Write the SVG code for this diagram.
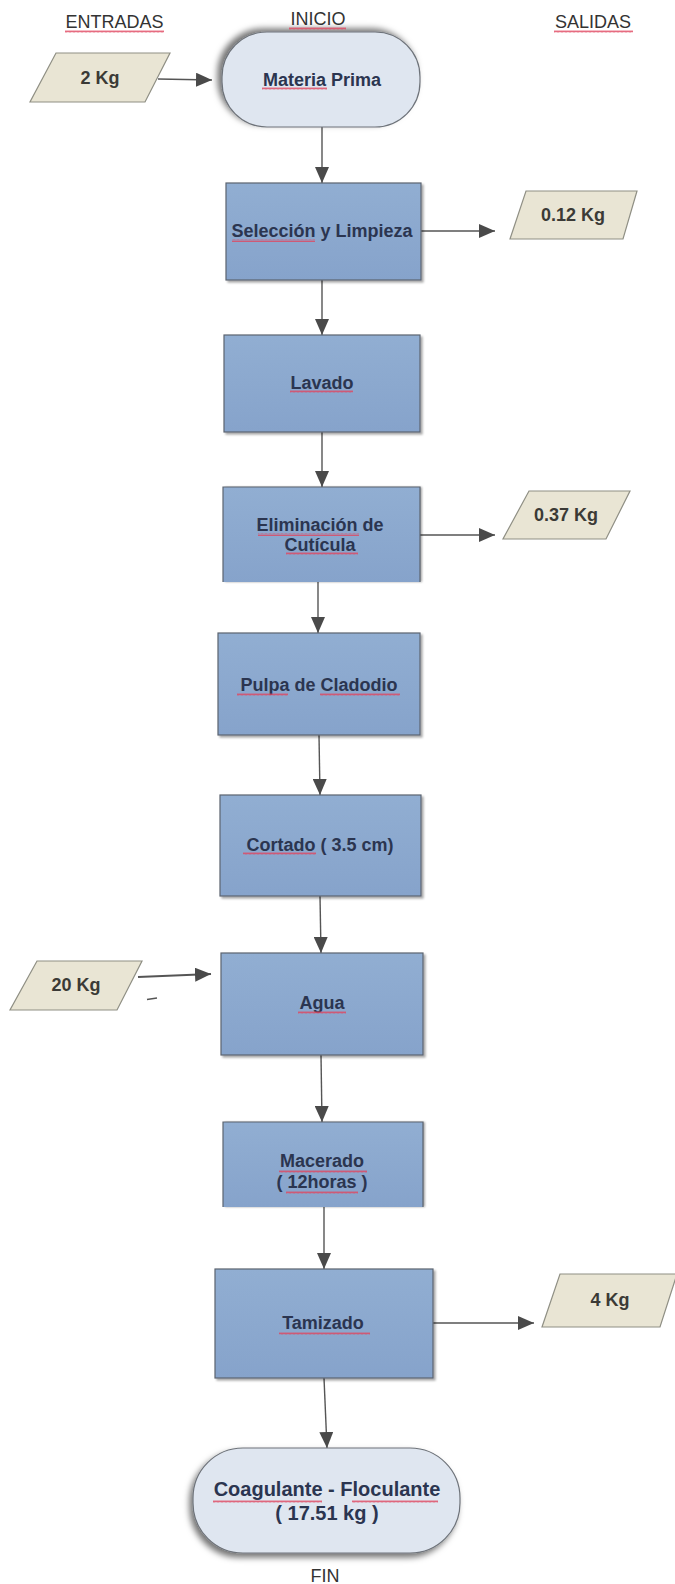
<svg xmlns="http://www.w3.org/2000/svg" width="675" height="1584" viewBox="0 0 675 1584">
<style>
.hdr{font-family:"Liberation Sans",Arial,sans-serif;font-size:18px;fill:#333;text-anchor:middle}
.bt{font-family:"Liberation Sans",Arial,sans-serif;font-size:18px;font-weight:bold;fill:#2b3550;text-anchor:middle}
.pt{font-family:"Liberation Sans",Arial,sans-serif;font-size:18px;font-weight:bold;fill:#3b3a36;text-anchor:middle}
.box{fill:url(#boxg);stroke:#5c6470;stroke-width:1.2}
.boxo{fill:url(#boxg);stroke:none}
.boxe{fill:none;stroke:#5c6470;stroke-width:1.2}
.term{fill:#dfe6f0;stroke:#6e737a;stroke-width:1.2}
.para{fill:#e9e5d4;stroke:#8f8f84;stroke-width:1.2}
.edge{stroke:#555;stroke-width:1.4;fill:none;marker-end:url(#ah)}
.sq{fill:url(#squig)}
</style>
<defs>
<linearGradient id="boxg" x1="0" y1="0" x2="0" y2="1">
<stop offset="0" stop-color="#91aed2"/>
<stop offset="1" stop-color="#86a3cb"/>
</linearGradient>
<marker id="ah" viewBox="0 0 16 14" refX="16" refY="7" markerWidth="16" markerHeight="14" markerUnits="userSpaceOnUse" orient="auto">
<path d="M0,0 L16,7 L0,14 Z" fill="#4a4a4a"/>
</marker>
<filter id="sh" x="-10%" y="-10%" width="125%" height="125%">
<feDropShadow dx="2" dy="2" stdDeviation="1.3" flood-color="#000" flood-opacity="0.35"/>
</filter>
<filter id="shs" x="-10%" y="-10%" width="125%" height="125%">
<feDropShadow dx="2" dy="0" stdDeviation="1.3" flood-color="#000" flood-opacity="0.35"/>
</filter>
<filter id="shtl" x="-20%" y="-20%" width="140%" height="140%">
<feDropShadow dx="-4" dy="-3" stdDeviation="3" flood-color="#000" flood-opacity="0.55"/>
</filter>
<filter id="shbl" x="-20%" y="-20%" width="140%" height="140%">
<feDropShadow dx="-3" dy="4" stdDeviation="3" flood-color="#000" flood-opacity="0.55"/>
</filter>
<pattern id="squig" patternUnits="userSpaceOnUse" width="4" height="3">
<path d="M0,2.5 L1,0.5 L2,2.5 L3,0.5 L4,2.5" fill="none" stroke="#e0465f" stroke-width="0.8"/>
</pattern>
</defs>
<rect width="675" height="1584" fill="#ffffff"/>

<g id="headers">
<text class="hdr" x="114.5" y="28">ENTRADAS</text>
<text class="hdr" x="318" y="25">INICIO</text>
<text class="hdr" x="593" y="28">SALIDAS</text>
<text class="hdr" x="325" y="1582">FIN</text>
</g>

<g id="connectors">
<line class="edge" x1="158" y1="79" x2="212" y2="80"/>
<line class="edge" x1="322" y1="127" x2="322" y2="183"/>
<line class="edge" x1="421" y1="231" x2="495" y2="231"/>
<line class="edge" x1="322" y1="280" x2="322" y2="335"/>
<line class="edge" x1="322" y1="432" x2="322" y2="487"/>
<line class="edge" x1="420" y1="535" x2="495" y2="535"/>
<line class="edge" x1="318" y1="582" x2="318" y2="633"/>
<line class="edge" x1="319" y1="735" x2="320" y2="795"/>
<line class="edge" x1="320" y1="896" x2="321" y2="953"/>
<line class="edge" x1="138" y1="977" x2="211" y2="974" style="stroke-width:2.2"/>
<line x1="147" y1="999.5" x2="157" y2="998" stroke="#555" stroke-width="1.3"/>
<line class="edge" x1="321" y1="1055" x2="322" y2="1122"/>
<line class="edge" x1="324" y1="1207" x2="324" y2="1269"/>
<line class="edge" x1="433" y1="1323" x2="534" y2="1323"/>
<line class="edge" x1="324" y1="1378" x2="327" y2="1448"/>
</g>

<g id="in-2kg">
<polygon class="para" points="56,53 170,53 145,102 30,102"/>
<text class="pt" x="100" y="84">2 Kg</text>
</g>

<g id="materia-prima">
<rect class="term" x="222" y="32" width="198" height="95" rx="45" ry="45" filter="url(#shtl)"/>
<text class="bt" x="322" y="86">Materia Prima</text>
</g>

<g id="seleccion">
<rect class="box" x="226" y="183" width="195" height="97" filter="url(#sh)"/>
<text class="bt" x="322" y="237">Selección y Limpieza</text>
</g>

<g id="out-012">
<polygon class="para" points="526,191 637,191 623,239 510,239"/>
<text class="pt" x="573" y="221">0.12 Kg</text>
</g>

<g id="lavado">
<rect class="box" x="224" y="335" width="196" height="97" filter="url(#sh)"/>
<text class="bt" x="322" y="389">Lavado</text>
</g>

<g id="eliminacion">
<rect class="boxo" x="223" y="487" width="197" height="95" filter="url(#shs)"/>
<path class="boxe" d="M223,582 L223,487 L420,487 L420,582"/>
<text class="bt" x="320" y="531">Eliminación de</text>
<text class="bt" x="320" y="551">Cutícula</text>
</g>

<g id="out-037">
<polygon class="para" points="529,491 630,491 606,539 503,539"/>
<text class="pt" x="566" y="521">0.37 Kg</text>
</g>

<g id="pulpa">
<rect class="box" x="218" y="633" width="202" height="102" filter="url(#sh)"/>
<text class="bt" x="319" y="691">Pulpa de Cladodio</text>
</g>

<g id="cortado">
<rect class="box" x="220" y="795" width="201" height="101" filter="url(#sh)"/>
<text class="bt" x="320" y="851">Cortado ( 3.5 cm)</text>
</g>

<g id="in-20kg">
<polygon class="para" points="37,961 142,961 117,1010 10,1010"/>
<text class="pt" x="76" y="991">20 Kg</text>
</g>

<g id="agua">
<rect class="box" x="221" y="953" width="202" height="102" filter="url(#sh)"/>
<text class="bt" x="322" y="1009">Agua</text>
</g>

<g id="macerado">
<rect class="boxo" x="223" y="1122" width="200" height="85" filter="url(#shs)"/>
<path class="boxe" d="M223,1207 L223,1122 L423,1122 L423,1207"/>
<text class="bt" x="322" y="1167">Macerado</text>
<text class="bt" x="322" y="1188">( 12horas )</text>
</g>

<g id="tamizado">
<rect class="box" x="215" y="1269" width="218" height="109" filter="url(#sh)"/>
<text class="bt" x="323" y="1329">Tamizado</text>
</g>

<g id="out-4kg">
<polygon class="para" points="560,1274 677,1274 660,1327 542,1327"/>
<text class="pt" x="610" y="1306">4 Kg</text>
</g>

<g id="coagulante">
<rect class="term" x="193" y="1448" width="267" height="105" rx="50" ry="50" filter="url(#shbl)"/>
<text class="bt" x="327" y="1496" style="font-size:20px">Coagulante - Floculante</text>
<text class="bt" x="327" y="1520" style="font-size:20px">( 17.51 kg )</text>
</g>

<g id="spellmarks">
<rect class="sq" x="65" y="30" width="99" height="3"/>
<rect class="sq" x="289" y="27" width="57" height="3"/>
<rect class="sq" x="554" y="30" width="79" height="3"/>
<rect class="sq" x="262" y="87" width="65" height="3"/>
<rect class="sq" x="232" y="239" width="83" height="3"/>
<rect class="sq" x="290" y="390" width="63" height="3"/>
<rect class="sq" x="258" y="533" width="101" height="3"/>
<rect class="sq" x="286" y="552" width="72" height="3"/>
<rect class="sq" x="237" y="693" width="51" height="3"/>
<rect class="sq" x="320" y="693" width="80" height="3"/>
<rect class="sq" x="243" y="852" width="73" height="3"/>
<rect class="sq" x="298" y="1011" width="48" height="3"/>
<rect class="sq" x="279" y="1170" width="88" height="3"/>
<rect class="sq" x="286" y="1191" width="72" height="3"/>
<rect class="sq" x="279" y="1332" width="91" height="3"/>
<rect class="sq" x="213" y="1500" width="109" height="3"/>
<rect class="sq" x="352" y="1500" width="86" height="3"/>
</g>
</svg>
